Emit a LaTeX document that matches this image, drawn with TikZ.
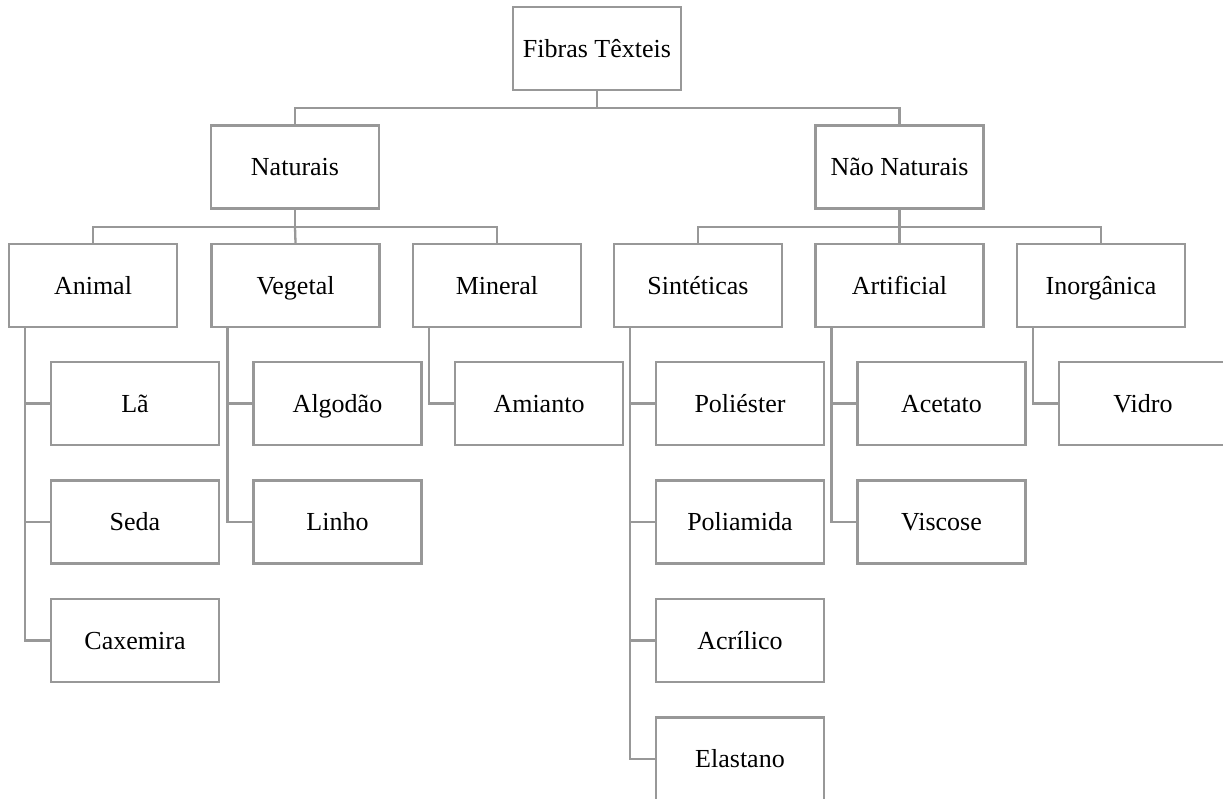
\documentclass[tikz,border=0pt]{standalone}
\usepackage{fontspec}
\setmainfont{Liberation Serif}
\definecolor{ln}{RGB}{152,152,152}
\begin{document}
\begin{tikzpicture}[x=1pt,y=-1pt,
  box/.style={draw=ln,line width=2.3pt,fill=white,minimum width=168pt,minimum height=83pt,inner sep=0pt,text height=20pt,text depth=3pt,font=\fontsize{26}{30}\selectfont},
  conn/.style={draw=ln,line width=2.3pt}]
\useasboundingbox (0,0) rectangle (1223,798);
\clip (0,0) rectangle (1223,798);
\fill[white] (0,0) rectangle (1223,798);
% nodes
\node[box] (top) at (597,48.5) {Fibras Têxteis};
\node[box] (nat) at (295,167) {Naturais};
\node[box] (nn) at (899.5,167) {Não Naturais};
\node[box] (ani) at (93,285.5) {Animal};
\node[box] (veg) at (295.5,285.5) {Vegetal};
\node[box] (min) at (497,285.5) {Mineral};
\node[box] (sin) at (698,285.5) {Sintéticas};
\node[box] (art) at (899.5,285.5) {Artificial};
\node[box] (ino) at (1101,285.5) {Inorgânica};
\node[box] (la) at (135,403.5) {Lã};
\node[box] (seda) at (135,522) {Seda};
\node[box] (cax) at (135,640.5) {Caxemira};
\node[box] (alg) at (337.5,403.5) {Algodão};
\node[box] (lin) at (337.5,522) {Linho};
\node[box] (ami) at (539,403.5) {Amianto};
\node[box] (pes) at (740,403.5) {Poliéster};
\node[box] (pam) at (740,522) {Poliamida};
\node[box] (acr) at (740,640.5) {Acrílico};
\node[box] (ela) at (740,759) {Elastano};
\node[box] (ace) at (941.5,403.5) {Acetato};
\node[box] (vis) at (941.5,522) {Viscose};
\node[box] (vid) at (1143,403.5) {Vidro};
% bus coordinates
\coordinate (b0) at (597,108);
\coordinate (b1) at (295,227);
\coordinate (b2) at (899.5,227);
% connectors
\draw[conn] (top.south) -- (b0);
\draw[conn] (nat.north) |- (b0) -| (nn.north);
\draw[conn] (nat.south) -- (b1);
\draw[conn] (ani.north) |- (b1) -| (min.north);
\draw[conn] (b1) -- (veg.north);
\draw[conn] (nn.south) -- (b2);
\draw[conn] (sin.north) |- (b2) -| (ino.north);
\draw[conn] (b2) -- (art.north);
\draw[conn] ([xshift=17pt]ani.south west) |- (la.west);
\draw[conn] ([xshift=17pt]ani.south west) |- (seda.west);
\draw[conn] ([xshift=17pt]ani.south west) |- (cax.west);
\draw[conn] ([xshift=17pt]veg.south west) |- (alg.west);
\draw[conn] ([xshift=17pt]veg.south west) |- (lin.west);
\draw[conn] ([xshift=17pt]min.south west) |- (ami.west);
\draw[conn] ([xshift=17pt]sin.south west) |- (pes.west);
\draw[conn] ([xshift=17pt]sin.south west) |- (pam.west);
\draw[conn] ([xshift=17pt]sin.south west) |- (acr.west);
\draw[conn] ([xshift=17pt]sin.south west) |- (ela.west);
\draw[conn] ([xshift=17pt]art.south west) |- (ace.west);
\draw[conn] ([xshift=17pt]art.south west) |- (vis.west);
\draw[conn] ([xshift=17pt]ino.south west) |- (vid.west);
\end{tikzpicture}
\end{document}
